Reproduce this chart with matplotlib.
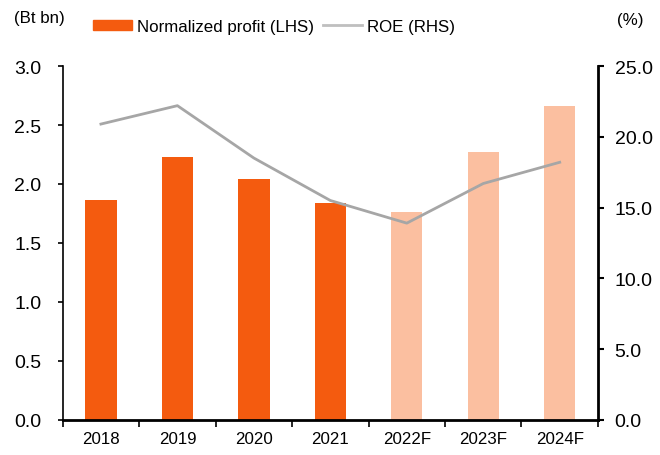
import matplotlib.pyplot as plt
import numpy as np
from matplotlib.patches import Patch
from matplotlib.lines import Line2D

plt.rcParams['font.family'] = ['Liberation Sans', 'DejaVu Sans']
plt.rcParams['font.size'] = 12.2

years = ['2018', '2019', '2020', '2021', '2022F', '2023F', '2024F']
profit = [1.86, 2.23, 2.04, 1.84, 1.76, 2.27, 2.66]
roe = [20.9, 22.2, 18.5, 15.5, 13.9, 16.7, 18.2]
is_forecast = [False, False, False, False, True, True, True]

dark = '#F45B0F'
light = '#FBBFA0'
grey = '#A6A6A6'

fig = plt.figure(figsize=(6.6, 4.56), dpi=100)
ax = fig.add_axes([0.095, 0.077, 0.811, 0.776])
x = np.arange(len(years))
colors = [light if f else dark for f in is_forecast]
ax.bar(x, profit, width=0.41, color=colors, zorder=2)
ax.set_xlim(-0.5, len(years) - 0.5)
ax.set_ylim(0, 3.0)
ax.set_yticks(np.arange(0, 3.01, 0.5))
ax.set_yticklabels([f'{v:.1f}' for v in np.arange(0, 3.01, 0.5)])
ax.set_xticks(x)
ax.set_xticklabels(years)
ax.set_xticks(np.arange(-0.5, len(years)), minor=True)
ax.tick_params(axis='x', which='major', length=0, pad=8)
ax.tick_params(axis='x', which='minor', length=5, width=1.2, direction='out')
ax.tick_params(axis='y', length=3.5, width=1.2, direction='out', pad=12, labelsize=14)
for s in ['top', 'right']:
    ax.spines[s].set_visible(False)
ax.spines['left'].set_linewidth(1.2)
ax.spines['bottom'].set_linewidth(2)

ax2 = ax.twinx()
ax2.plot(x, roe, color=grey, lw=2, zorder=3)
ax2.set_ylim(0, 25)
ax2.set_yticks(np.arange(0, 25.1, 5))
ax2.set_yticklabels([f'{v:.1f}' for v in np.arange(0, 25.1, 5)])
ax2.tick_params(axis='y', length=4, width=1.5, direction='out', pad=8, labelsize=14)
for s in ['top', 'left', 'bottom']:
    ax2.spines[s].set_visible(False)
ax2.spines['right'].set_linewidth(2)

fig.text(0.021, 0.96, '(Bt bn)', ha='left', va='center')
fig.text(0.975, 0.955, '(%)', ha='right', va='center')
handles = [Patch(color=dark), Line2D([0], [0], color='#BFBFBF', lw=2)]
fig.legend(handles, ['Normalized profit (LHS)', 'ROE (RHS)'], loc='center left',
           bbox_to_anchor=(0.141, 0.94), ncol=2, frameon=False, borderaxespad=0,
           borderpad=0, handlelength=2.3, handleheight=0.6, columnspacing=0.5,
           handletextpad=0.3)

fig.savefig('out.png', dpi=100)
